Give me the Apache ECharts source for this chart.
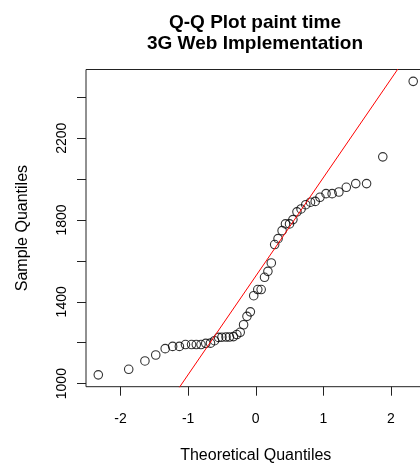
<!DOCTYPE html>
<html>
<head>
<meta charset="utf-8">
<script src="https://cdn.jsdelivr.net/npm/echarts@6/dist/echarts.min.js"></script>
<style>
html,body{margin:0;padding:0;background:#fff;}
#chart{width:420px;height:468px;}
</style>
</head>
<body>
<div id="chart"></div>
<script>
// Theoretical quantiles (x)
var theoretical = [-2.33,-1.88,-1.64,-1.48,-1.34,-1.23,-1.13,-1.04,-0.95,-0.88,
  -0.81,-0.74,-0.67,-0.61,-0.55,-0.50,-0.44,-0.39,-0.33,-0.28,
  -0.23,-0.18,-0.13,-0.08,-0.03,0.03,0.08,0.13,0.18,0.23,
  0.28,0.33,0.39,0.44,0.50,0.55,0.61,0.67,0.74,0.81,
  0.88,0.95,1.04,1.13,1.23,1.34,1.48,1.64,1.88,2.33];
// Sample quantiles (paint time)
var sample = [1043,1070,1111,1140,1171,1182,1182,1191,1191,1191,
  1191,1197,1198,1210,1226,1227,1228,1228,1230,1240,
  1251,1288,1329,1351,1430,1460,1460,1520,1549,1590,
  1680,1709,1748,1781,1781,1802,1840,1854,1875,1887,
  1891,1911,1929,1929,1937,1960,1978,1978,2109,2478];
var xTicks = [-2,-1,0,1,2];
var yTicks = [1000,1200,1400,1600,1800,2000,2200,2400];
var yLabels = [1000,1400,1800,2200];
var titleText = 'Q-Q Plot paint time\n3G Web Implementation';
var xName = 'Theoretical Quantiles';
var yName = 'Sample Quantiles';

var xMin = -2.512, xMax = 2.512, yMin = 985, yMax = 2536;

// qqline: line through the 1st and 3rd quartiles
function quantile(arr, p){
  var s = arr.slice().sort(function(a,b){return a-b;});
  var h = (s.length-1)*p, lo = Math.floor(h);
  return s[lo] + (h-lo)*((s[lo+1]!==undefined?s[lo+1]:s[lo]) - s[lo]);
}
var q1 = quantile(sample,0.25), q3 = quantile(sample,0.75);
var zq = 0.6744898;
var slope = (q3-q1)/(2*zq);
var intercept = q1 + slope*zq;
var linePts = [[xMin, intercept + slope*xMin],[xMax, intercept + slope*xMax]];

var pts = theoretical.map(function(x,i){return [x, sample[i]];});

var font = 'Liberation Sans, Arial, Helvetica, sans-serif';
var chart = echarts.init(document.getElementById('chart'), null, {renderer:'canvas'});
chart.setOption({
  animation:false,
  backgroundColor:'#fff',
  title:{
    text:titleText,
    left:250, top:7, textAlign:'center',
    textStyle:{fontFamily:font,fontSize:19,fontWeight:'bold',color:'#000',lineHeight:21}
  },
  grid:{left:86, top:69.5, width:339.5, height:317.2, show:true, borderColor:'#222', borderWidth:1,
        backgroundColor:'transparent', outerBoundsMode:'none', containLabel:false},
  xAxis:{
    type:'value', min:xMin, max:xMax, position:'bottom',
    name:xName, nameLocation:'middle', nameGap:61,
    nameTextStyle:{fontFamily:font,fontSize:16,color:'#000'},
    axisLine:{show:false, onZero:false},
    splitLine:{show:false},
    axisTick:{show:true, length:9, inside:false, customValues:xTicks, lineStyle:{color:'#222',width:1}},
    axisLabel:{show:true, inside:false, customValues:xTicks, margin:25, fontFamily:font, fontSize:14, color:'#000',
               formatter:function(v){return String(v);}}
  },
  yAxis:{
    type:'value', min:yMin, max:yMax, position:'left',
    name:yName, nameLocation:'middle', nameGap:55, nameRotate:90,
    nameTextStyle:{fontFamily:font,fontSize:16,color:'#000'},
    axisLine:{show:false, onZero:false},
    splitLine:{show:false},
    axisTick:{show:true, length:9, inside:false, customValues:yTicks, lineStyle:{color:'#222',width:1}},
    axisLabel:{show:true, inside:false, customValues:yLabels, rotate:90, margin:17, fontFamily:font, fontSize:14, color:'#000',
               formatter:function(v){return String(v);}}
  },
  series:[
    {
      type:'scatter', data:pts, symbol:'circle', symbolSize:8.5,
      itemStyle:{color:'rgba(0,0,0,0)', borderColor:'#000', borderWidth:1.1},
      emphasis:{disabled:true}, z:2
    },
    {
      type:'line', data:linePts, showSymbol:false, clip:true,
      lineStyle:{color:'#ff0000', width:1}, emphasis:{disabled:true}, z:3
    }
  ]
});
</script>
</body>
</html>
